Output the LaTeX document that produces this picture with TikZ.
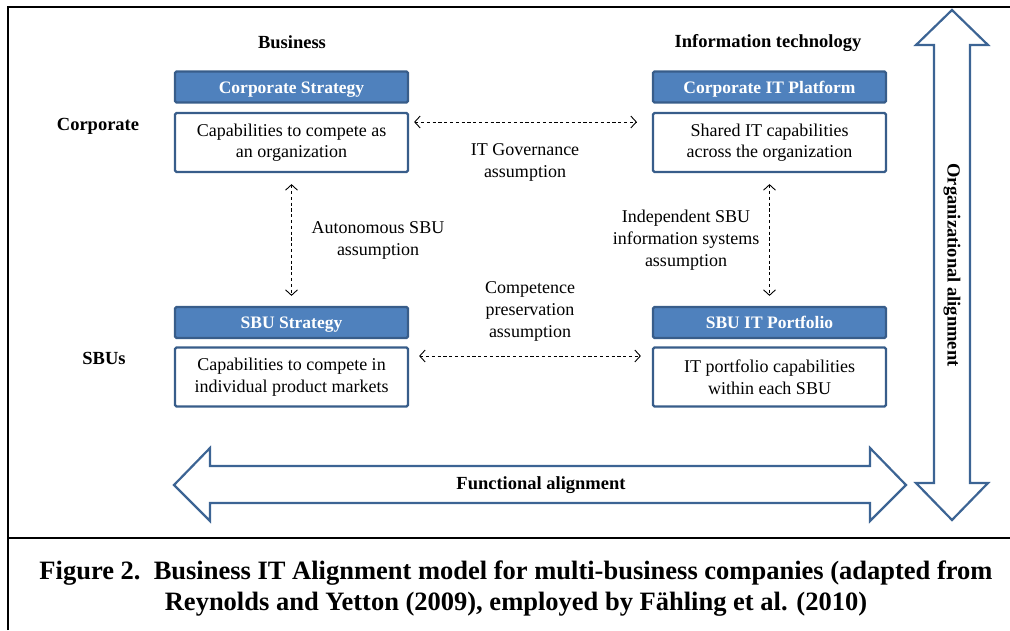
\documentclass[tikz,border=0pt]{standalone}
\usepackage{fontspec}
\setmainfont{Liberation Serif}
\usetikzlibrary{arrows.meta}
\definecolor{hdrfill}{HTML}{4F81BD}
\definecolor{hdrline}{HTML}{385D8A}
\definecolor{bigline}{HTML}{3C6494}
\tikzset{
  hdr/.style={draw=hdrline, line width=2.2pt, fill=hdrfill, rounded corners=1.5pt,
    minimum width=233pt, minimum height=31pt, inner sep=0pt, text=white,
    text height=12pt, text depth=0pt,
    font=\bfseries\fontsize{17.5}{20}\selectfont},
  body/.style={draw=hdrline, line width=2.2pt, fill=white, rounded corners=1.5pt,
    minimum width=233pt, minimum height=59pt, inner sep=0pt, align=center,
    font=\fontsize{18}{21.5}\selectfont},
  lbl/.style={align=center, inner sep=0pt, font=\fontsize{18}{22}\selectfont},
  side/.style={inner sep=0pt, font=\bfseries\fontsize{18.5}{20}\selectfont},
  dasharrow/.style={dash pattern=on 3.2pt off 2.6pt, line width=0.9pt,
    {Straight Barb[length=5.5pt,width=12pt]}-{Straight Barb[length=5.5pt,width=12pt]}},
  bigarrow/.style={draw=bigline, line width=2.2pt, fill=white, line join=miter},
  frame/.style={line width=1.8pt, draw=black}
}
\begin{document}
\begin{tikzpicture}[x=1pt,y=-1pt]
\useasboundingbox (0,0) rectangle (1010,630);
% frame
\draw[frame] (8,630) -- (8,7) -- (1010,7);
\draw[frame] (8,538) -- (1010,538);

% column / row titles
\node[side] (tbus) at (292,42) {Business};
\node[side] (tit) at (768,43.5) {Information technology};
\node[side] (tcorp) at (98,126) {Corporate};
\node[side] (tsbu) at (104,358) {SBUs};

% boxes
\node[hdr] (cs) at (291.5,87) {Corporate Strategy};
\node[body] (csb) at (291.5,142.5) {Capabilities to compete as\\an organization};
\node[hdr] (cit) at (769.5,87) {Corporate IT Platform};
\node[body] (citb) at (769.5,142.5) {Shared IT capabilities\\across the organization};
\node[hdr] (ss) at (291.5,322.5) {SBU Strategy};
\node[body] (ssb) at (291.5,377) {Capabilities to compete in\\individual product markets};
\node[hdr] (sit) at (769.5,322.5) {SBU IT Portfolio};
\node[body] (sitb) at (769.5,377) {IT portfolio capabilities\\within each SBU};

% dashed connectors
\draw[dasharrow] ([xshift=5pt,yshift=20.5pt]csb.east) -- ([xshift=-15pt,yshift=20.5pt]citb.west);
\draw[dasharrow] ([xshift=10pt,yshift=21pt]ssb.east) -- ([xshift=-11pt,yshift=21pt]sitb.west);
\draw[dasharrow] ([yshift=-11pt]csb.south) -- ([yshift=10pt]ss.north);
\draw[dasharrow] ([yshift=-11pt]citb.south) -- ([yshift=10pt]sit.north);

% connector labels
\node[lbl] (l1) at (525,162) {IT Governance\\assumption};
\node[lbl] (l2) at (378,240.5) {Autonomous SBU\\assumption};
\node[lbl] (l3) at (686,240.5) {Independent SBU\\information systems\\assumption};
\node[lbl] (l4) at (530,311.5) {Competence\\preservation\\assumption};

% functional alignment arrow
\draw[bigarrow] (174,485) -- (210,448) -- (210,466) -- (870,466) -- (870,448) -- (906,485)
  -- (870,521) -- (870,503) -- (210,503) -- (210,521) -- cycle;
\node[side] (fa) at (541,485) {Functional alignment};

% organizational alignment arrow
\draw[bigarrow] (952,10) -- (988,45) -- (970,45) -- (970,483) -- (988,483) -- (952,520)
  -- (916,483) -- (934,483) -- (934,45) -- (916,45) -- cycle;
\node[side, rotate=-90] (oa) at (952,265) {Organizational alignment};

% caption
\node[align=center, inner sep=0pt, font=\bfseries\fontsize{26.5}{31}\selectfont] (cap) at (516,588.5)
  {Figure 2.\ \ Business IT Alignment model for multi-business companies (adapted from\\
   Reynolds and Yetton (2009), employed by Fähling et al. (2010)};
\end{tikzpicture}
\end{document}
